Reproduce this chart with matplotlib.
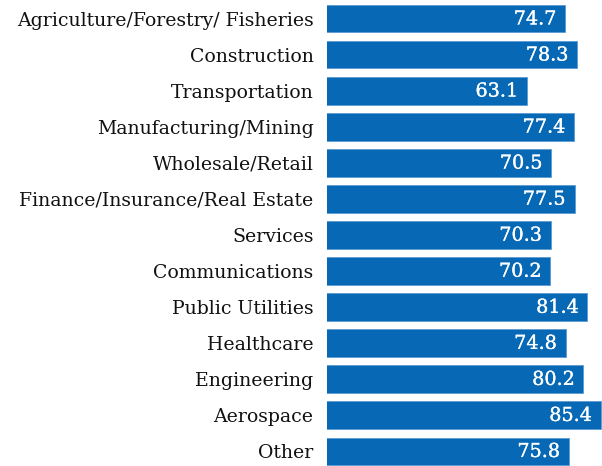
import numpy as np
import matplotlib.pyplot as plt
import matplotlib.patheffects as pe

industries = ['Agriculture/Forestry/ Fisheries', 'Construction', 'Transportation',
              'Manufacturing/Mining', 'Wholesale/Retail', 'Finance/Insurance/Real Estate',
              'Services', 'Communications', 'Public Utilities', 'Healthcare',
              'Engineering', 'Aerospace', 'Other']
scores = [74.7, 78.3, 63.1, 77.4, 70.5, 77.5, 70.3, 70.2, 81.4, 74.8, 80.2, 85.4, 75.8]

barColor = '#0769b5'

fig = plt.figure(figsize=(6.02, 4.66), dpi=100)
ax = fig.add_axes([327.3 / 602, 0, 1 - 327.3 / 602, 1])

pos = np.arange(len(industries))
ax.barh(pos, scores, height=0.76, color=barColor, edgecolor='#5b9bd5', linewidth=0.6)

# value labels sit inside the right end of each bar, slightly thickened
for p, v in zip(pos, scores):
    ax.text(v - 2.7, p + 0.02, '%.1f' % v, ha='right', va='center', color='white',
            fontsize=13.8, family='DejaVu Serif',
            path_effects=[pe.withStroke(linewidth=0.2, foreground='white')])

ax.set_yticks(pos)
ax.set_yticklabels(industries, fontsize=13.6, family='DejaVu Serif', color='#111111')
ax.tick_params(axis='y', length=0, pad=10)
ax.set_xticks([])
ax.set_xlim(2.75, 85.8)
ax.set_ylim(12.41, -0.52)
for s in ax.spines.values():
    s.set_visible(False)

fig.savefig('out.png', dpi=100)
